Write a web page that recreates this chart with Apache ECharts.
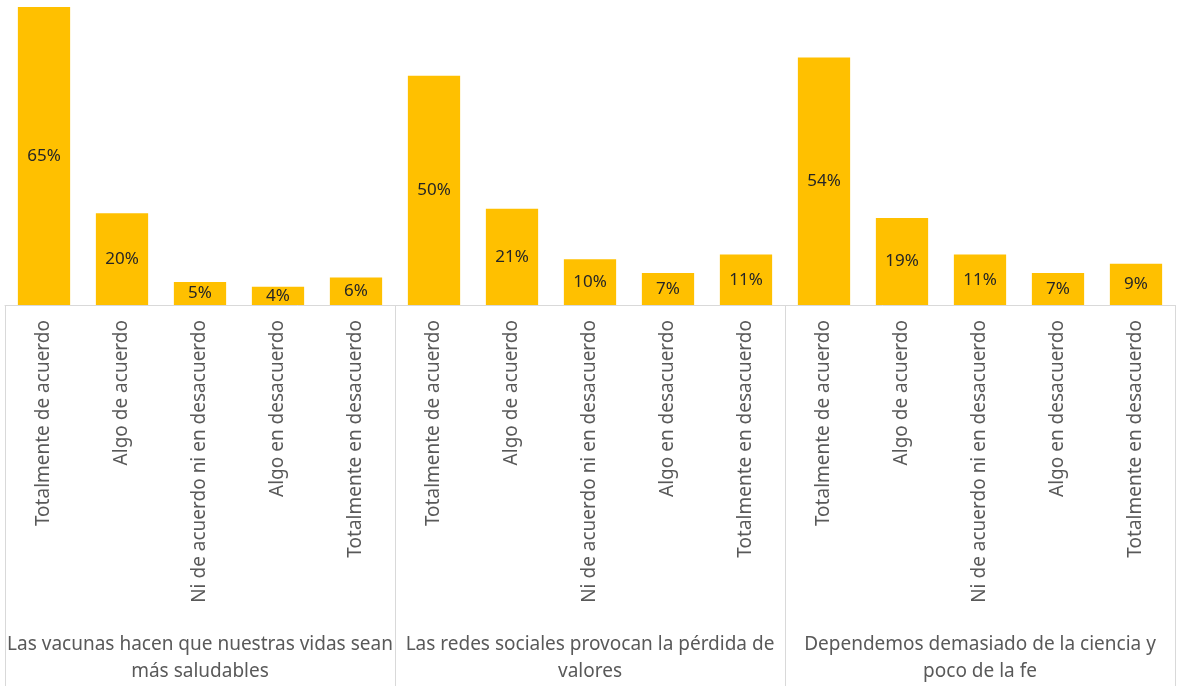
<!DOCTYPE html>
<html><head><meta charset="utf-8">
<script src="https://cdn.jsdelivr.net/npm/echarts@6/dist/echarts.min.js"></script>
<style>html,body{margin:0;padding:0;background:#fff}#c{width:1177px;height:686px}</style>
</head><body><div id="c"></div>
<script>
var responses = ["Totalmente de acuerdo","Algo de acuerdo","Ni de acuerdo ni en desacuerdo","Algo en desacuerdo","Totalmente en desacuerdo"];
var groups = ["Las vacunas hacen que nuestras vidas sean\nmás saludables","Las redes sociales provocan la pérdida de\nvalores","Dependemos demasiado de la ciencia y\npoco de la fe"];
var vacunas = [65,20,5,4,6];
var redes = [50,21,10,7,11];
var ciencia = [54,19,11,7,9];

var cats = [], vals = [];
[vacunas, redes, ciencia].forEach(function(arr){
  arr.forEach(function(v,i){ cats.push(responses[i]); vals.push(v); });
});
var font = "Noto Sans";
var chart = echarts.init(document.getElementById('c'), null, {renderer:'canvas'});
chart.setOption({
  animation:false,
  grid:{left:5,right:2,top:7,bottom:381,containLabel:false},
  xAxis:[{
    type:'category', data:cats, position:'bottom',
    axisLine:{show:true,lineStyle:{color:'#d9d9d9',width:1}},
    axisTick:{show:false},
    axisLabel:{interval:0,rotate:90,margin:15,color:'#595959',fontSize:19,fontFamily:font}
  },{
    type:'category', data:groups, position:'bottom', offset:0,
    axisLine:{show:false},
    axisTick:{show:true,interval:0,length:381,lineStyle:{color:'#d9d9d9',width:1}},
    axisLabel:{interval:0,margin:326,color:'#595959',fontSize:19,fontFamily:font,lineHeight:27,align:'center',verticalAlign:'top'}
  }],
  yAxis:{type:'value',min:0,max:65,show:false,splitLine:{show:false}},
  series:[{
    type:'bar', data:vals, xAxisIndex:0, barWidth:'67%',
    itemStyle:{color:'#FFC000'},
    label:{show:true,position:'inside',formatter:'{c}%',color:'#262626',fontSize:17,fontFamily:font}
  }]
});
</script></body></html>
